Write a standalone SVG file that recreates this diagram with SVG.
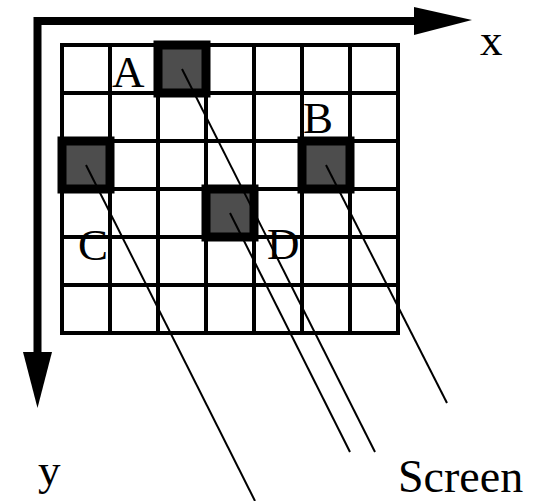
<svg xmlns="http://www.w3.org/2000/svg" width="538" height="501" viewBox="0 0 538 501">
<style>
.grid{stroke:#000;stroke-width:4;fill:none}
.px{fill:#4d4d4d;stroke:#000;stroke-width:9}
.ray{stroke:#000;stroke-width:2;fill:none}
.axis{stroke:#000;stroke-width:8;fill:none}
text{font-family:"Liberation Serif","Times New Roman",serif;font-size:45px;fill:#000}
</style>
<rect width="538" height="501" fill="#fff"/>
<g id="axes">
<path class="axis" d="M37.5 357 V21 H414"/>
<polygon points="414,7 472,20 414,35" fill="#000"/>
<polygon points="23,352 37.5,408 52,352" fill="#000"/>
<text x="480" y="55">x</text>
<text x="38" y="485">y</text>
</g>
<g id="grid">
<rect class="grid" x="62" y="45" width="336" height="288"/>
<path class="grid" d="M110 45V333M158 45V333M206 45V333M254 45V333M302 45V333M350 45V333M62 93H398M62 141H398M62 189H398M62 237H398M62 285H398"/>
</g>
<g id="pixelA"><rect class="px" x="158" y="45" width="48" height="48"/><text x="112" y="87">A</text></g>
<g id="pixelB"><rect class="px" x="302" y="141" width="48" height="48"/><text x="303" y="133">B</text></g>
<g id="pixelC"><rect class="px" x="62" y="141" width="48" height="48"/><text x="78" y="260">C</text></g>
<g id="pixelD"><rect class="px" x="206" y="189" width="48" height="48"/><text x="267" y="259">D</text></g>
<g id="connectors">
<line class="ray" x1="182" y1="69" x2="375" y2="452"/>
<line class="ray" x1="230" y1="213" x2="350" y2="452"/>
<line class="ray" x1="326" y1="165" x2="447" y2="403"/>
<line class="ray" x1="86" y1="165" x2="255" y2="501"/>
</g>
<g id="screen"><text x="398" y="492" style="font-size:46px">Screen</text></g>
</svg>
